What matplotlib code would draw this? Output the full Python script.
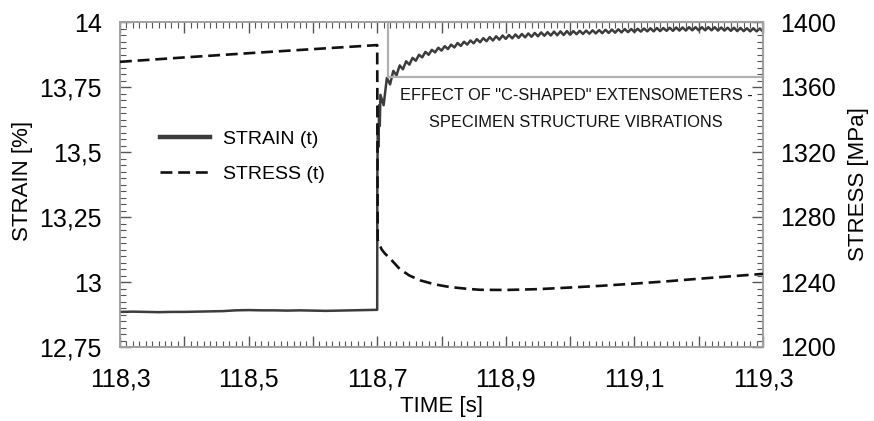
import matplotlib
matplotlib.use("Agg")
import matplotlib.pyplot as plt
import numpy as np
from matplotlib.ticker import MultipleLocator, FuncFormatter
from matplotlib.patches import Rectangle

plt.rcParams['font.family'] = ['Liberation Sans', 'DejaVu Sans']

# strain before the jump (time [s], strain [%])
strain_pre_t = [118.30, 118.32, 118.34, 118.36, 118.38, 118.40, 118.42, 118.44, 118.46, 118.48,
                118.50, 118.52, 118.54, 118.56, 118.58, 118.60, 118.62, 118.64, 118.66, 118.68,
                118.70]
strain_pre = [12.885, 12.886, 12.885, 12.884, 12.885, 12.885, 12.886, 12.887, 12.888, 12.891,
              12.892, 12.891, 12.891, 12.890, 12.891, 12.890, 12.889, 12.890, 12.891, 12.892,
              12.893]

# jump region
strain_jump_t = [118.7002, 118.701, 118.702, 118.703, 118.704]
strain_jump = [13.40, 13.60, 13.52, 13.68, 13.60]

# after the jump, vibrating (every 5 ms from 118.705 to 119.300)
strain_post = [
    13.720, 13.680, 13.785, 13.760, 13.812, 13.795, 13.833, 13.818, 13.849, 13.836,
    13.862, 13.851, 13.874, 13.864, 13.885, 13.874, 13.893, 13.883, 13.901, 13.890,
    13.907, 13.896, 13.913, 13.902, 13.919, 13.908, 13.924, 13.913, 13.929, 13.918,
    13.934, 13.922, 13.938, 13.926, 13.942, 13.929, 13.945, 13.932, 13.948, 13.935,
    13.950, 13.937, 13.952, 13.939, 13.954, 13.941, 13.956, 13.943, 13.958, 13.945,
    13.960, 13.947, 13.961, 13.948, 13.963, 13.949, 13.964, 13.950, 13.965, 13.951,
    13.965, 13.953, 13.966, 13.954, 13.967, 13.955, 13.968, 13.956, 13.969, 13.957,
    13.970, 13.958, 13.971, 13.959, 13.972, 13.960, 13.973, 13.961, 13.973, 13.962,
    13.974, 13.963, 13.975, 13.964, 13.976, 13.964, 13.977, 13.965, 13.977, 13.966,
    13.978, 13.966, 13.979, 13.967, 13.979, 13.967, 13.980, 13.968, 13.980, 13.968,
    13.980, 13.968, 13.980, 13.968, 13.980, 13.967, 13.979, 13.967, 13.978, 13.966,
    13.978, 13.965, 13.977, 13.965, 13.976, 13.964, 13.976, 13.964, 13.975, 13.963,
]
strain_post_t = np.round(np.arange(len(strain_post)) * 0.005 + 118.705, 3)

# stress (time [s], stress [MPa])
stress_t = [118.30, 118.40, 118.50, 118.60, 118.700, 118.7008, 118.703, 118.707, 118.712,
            118.720, 118.735, 118.750, 118.767, 118.790, 118.813, 118.840, 118.860, 118.900,
            118.950, 119.000, 119.050, 119.100, 119.150, 119.200, 119.250, 119.300]
stress = [1375.5, 1378.2, 1380.8, 1383.3, 1385.8, 1266.0, 1263.5, 1260.0, 1257.5,
          1254.5, 1248.0, 1244.0, 1241.0, 1238.5, 1236.9, 1235.8, 1235.2, 1235.1,
          1235.6, 1236.6, 1237.7, 1239.0, 1240.4, 1242.0, 1243.5, 1245.0]

strain_t = list(strain_pre_t) + strain_jump_t + list(strain_post_t)
strain_v = strain_pre + strain_jump + strain_post

fig = plt.figure(figsize=(8.74, 4.21), dpi=100)
ax = fig.add_axes([120 / 874, 74 / 421, 643 / 874, 325 / 421])
ax2 = ax.twinx()

l1, = ax.plot(strain_t, strain_v, color='#3c3c3c', lw=1.8, label='STRAIN (t)', zorder=3)
l2, = ax2.plot(stress_t, stress, color='#111111', lw=1.9, dashes=(4.5, 2.2), label='STRESS (t)', zorder=3)

ax.set_xlim(118.3, 119.3)
ax.set_ylim(12.75, 14.0)
ax2.set_ylim(1200, 1400)

comma = lambda v, p: ('%g' % round(v, 4)).replace('.', ',')
ax.xaxis.set_major_locator(MultipleLocator(0.1))
ax.xaxis.set_minor_locator(MultipleLocator(0.01))
ax.xaxis.set_major_formatter(FuncFormatter(
    lambda v, p: comma(v, p) if int(round((v - 118.3) * 10)) % 2 == 0 else ''))
ax.yaxis.set_major_locator(MultipleLocator(0.25))
ax.yaxis.set_minor_locator(MultipleLocator(0.025))
ax.yaxis.set_major_formatter(FuncFormatter(comma))
ax2.yaxis.set_major_locator(MultipleLocator(40))
ax2.yaxis.set_minor_locator(MultipleLocator(4))

tick_col = '#555555'
ax.tick_params(axis='x', which='both', direction='in', top=True, bottom=True, color=tick_col)
ax.tick_params(axis='x', which='major', length=8, width=1, labelsize=18, pad=15)
ax.tick_params(axis='x', which='minor', length=4, width=0.8)
ax.tick_params(axis='y', which='both', direction='in', left=True, right=False, color=tick_col)
ax.tick_params(axis='y', which='major', length=8, width=1, labelsize=18, pad=13)
ax.tick_params(axis='y', which='minor', length=4, width=0.8)
ax2.tick_params(axis='y', which='both', direction='in', color=tick_col)
ax2.tick_params(axis='y', which='major', length=8, width=1, labelsize=18, pad=12)
ax2.tick_params(axis='y', which='minor', length=4, width=0.8)

for a in (ax, ax2):
    for s in a.spines.values():
        s.set_color('#a0a0a0')
        s.set_linewidth(1.2)

ax.set_xlabel('TIME [s]', fontsize=16)
ax.set_ylabel('STRAIN [%]', fontsize=16)
ax2.set_ylabel('STRESS [MPa]', fontsize=16)
ax.xaxis.set_label_coords(0.5, -0.152)
ax.yaxis.set_label_coords(-0.135, 0.51)
ax2.yaxis.set_label_coords(1.132, 0.5)

# highlighted region of vibrations
box = Rectangle((118.717, 13.788), 119.3 - 118.717, 14.0 - 13.788, fill=False,
                edgecolor='#b0b0b0', lw=1.6, zorder=4, clip_on=False)
ax.add_patch(box)
ax.text(119.009, 13.719, 'EFFECT OF "C-SHAPED" EXTENSOMETERS -', fontsize=11.8,
        ha='center', va='center', color='#111111')
ax.text(119.009, 13.612, 'SPECIMEN STRUCTURE VIBRATIONS', fontsize=11.8,
        ha='center', va='center', color='#111111')

leg = ax.legend([l1, l2], ['STRAIN (t)', 'STRESS (t)'], loc='center left',
                bbox_to_anchor=(0.047, 0.585), frameon=False, fontsize=14,
                handlelength=2.6, handletextpad=0.65, labelspacing=0.9, borderpad=0)
leg.legend_handles[0].set_linewidth(3.2)

fig.savefig('out.png', dpi=100)
